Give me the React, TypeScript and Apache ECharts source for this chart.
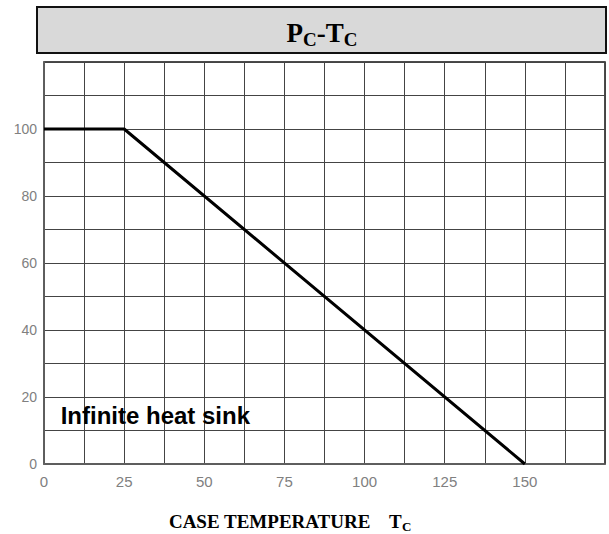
import React, { useEffect, useRef } from "react";
import * as echarts from "echarts";

const curveTemps = [0, 25, 150];
const curvePower = [100, 100, 0];
const xLabelValues = [0, 25, 50, 75, 100, 125, 150];
const yLabelValues = [0, 20, 40, 60, 80, 100];
const xTitle = "CASE TEMPERATURE";
const noteText = "Infinite heat sink";

export default function App() {
  const ref = useRef<HTMLDivElement>(null);
  useEffect(() => {
    if (!ref.current) return;
    const chart = echarts.init(ref.current, null, { renderer: "svg" });
    const data = curveTemps.map((t, i) => [t, curvePower[i]]);
    chart.setOption({
      animation: false,
      backgroundColor: "#fff",
      grid: {
        left: 44,
        right: 4,
        top: 62,
        bottom: 70,
        show: true,
        borderColor: "#111",
        borderWidth: 1.5,
      },
      graphic: [
        {
          type: "rect",
          shape: { x: 37, y: 7, width: 569, height: 46 },
          style: { fill: "#d9d9d9", stroke: "#111", lineWidth: 2 },
          z: 10,
        },
        {
          type: "text",
          x: 322,
          y: 31,
          z: 11,
          style: {
            text: "{p|P}{s|C}{p|-T}{s|C}",
            align: "center",
            verticalAlign: "middle",
            rich: {
              p: { fontFamily: "Liberation Serif", fontWeight: "bold", fontSize: 27, fill: "#000", lineHeight: 30, verticalAlign: "bottom" },
              s: { fontFamily: "Liberation Serif", fontWeight: "bold", fontSize: 19, fill: "#000", lineHeight: 24, verticalAlign: "bottom", padding: [0, 0, -3, 0] },
            },
          },
        },
        {
          type: "text",
          x: 290,
          y: 520,
          z: 11,
          style: {
            text: "{p|" + xTitle + "    T}{s|C}",
            align: "center",
            verticalAlign: "middle",
            rich: {
              p: { fontFamily: "Liberation Serif", fontWeight: "bold", fontSize: 19, fill: "#000", lineHeight: 22, verticalAlign: "bottom" },
              s: { fontFamily: "Liberation Serif", fontWeight: "bold", fontSize: 13, fill: "#000", lineHeight: 17, verticalAlign: "bottom", padding: [0, 0, -2, 0] },
            },
          },
        },
      ],
      xAxis: {
        type: "value",
        min: 0,
        max: 175,
        interval: 12.5,
        axisLine: { show: true, lineStyle: { color: "#666", width: 1.5 } },
        axisTick: { show: false },
        splitLine: { show: true, lineStyle: { color: "#444", width: 1 } },
        axisLabel: {
          color: "#808080",
          fontFamily: "Liberation Sans",
          fontSize: 15,
          margin: 10,
          showMaxLabel: false,
          formatter: (v: number) => (xLabelValues.includes(v) ? String(v) : ""),
        },
      },
      yAxis: {
        type: "value",
        min: 0,
        max: 120,
        interval: 10,
        axisLine: { show: true, lineStyle: { color: "#666", width: 1.5 } },
        axisTick: { show: false },
        splitLine: { show: true, lineStyle: { color: "#444", width: 1 } },
        axisLabel: {
          color: "#808080",
          fontFamily: "Liberation Sans",
          fontSize: 14,
          margin: 7,
          formatter: (v: number) => (yLabelValues.includes(v) ? String(v) : ""),
        },
      },
      series: [
        {
          type: "line",
          data,
          symbol: "none",
          lineStyle: { color: "#000", width: 3 },
          z: 5,
          markPoint: {
            symbol: "rect",
            symbolSize: 0,
            data: [
              {
                coord: [5.2, 14.5],
                label: {
                  show: true,
                  formatter: noteText,
                  position: "right",
                  distance: 0,
                  color: "#000",
                  fontFamily: "Liberation Sans",
                  fontWeight: "bold",
                  fontSize: 24,
                },
              },
            ],
          },
        },
      ],
    });
    return () => chart.dispose();
  }, []);
  return (
    <div
      ref={ref}
      style={{ position: "absolute", left: 0, top: 0, width: 609, height: 534 }}
    />
  );
}
